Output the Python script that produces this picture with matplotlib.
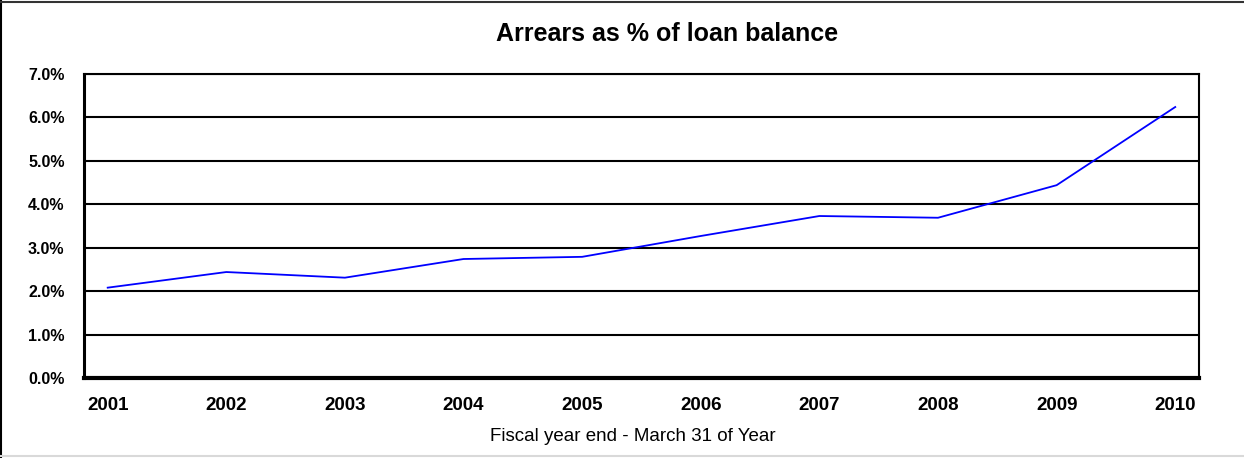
import matplotlib
matplotlib.use("Agg")
import matplotlib.pyplot as plt
from matplotlib.lines import Line2D
from matplotlib.ticker import FuncFormatter

years = [2001, 2002, 2003, 2004, 2005, 2006, 2007, 2008, 2009, 2010]
arrears_pct = [2.08, 2.44, 2.31, 2.74, 2.79, 3.27, 3.73, 3.69, 4.44, 6.24]

plt.rcParams['font.family'] = ['Liberation Sans', 'DejaVu Sans']

fig = plt.figure(figsize=(12.44, 4.58), dpi=100)
ax = fig.add_axes([0.0675, 0.1747, 0.8963, 0.6637])

ax.plot(years, arrears_pct, color='#0000ff', linewidth=1.3)

ax.set_xlim(years[0] - 0.2, years[-1] + 0.2)
ax.set_ylim(0, 7)
ax.set_yticks(range(0, 8))
ax.yaxis.set_major_formatter(FuncFormatter(lambda v, p: f"{v:.1f}%"))
ax.set_xticks(years)
ax.tick_params(axis='y', length=0, labelsize=11.5, pad=14)
ax.tick_params(axis='x', length=0, labelsize=13.5, pad=14)
for lbl in ax.get_xticklabels() + ax.get_yticklabels():
    lbl.set_fontweight('bold')

ax.grid(axis='y', color='black', linewidth=1.5)
ax.set_axisbelow(True)
for side, w in [('left', 2.2), ('bottom', 3), ('top', 1.5), ('right', 1.5)]:
    ax.spines[side].set_linewidth(w)
    ax.spines[side].set_color('black')

ax.set_xlabel("Fiscal year end - March 31 of Year", fontsize=13.5)
ax.xaxis.label.set_va('center')
ax.xaxis.set_label_coords(0.492, -0.194)
fig.text(0.536, 0.926, "Arrears as % of loan balance", ha='center', va='center',
         fontsize=18, fontweight='bold')

# chart frame: left and top dark, bottom light
fig.add_artist(Line2D([0.001, 0.001], [0.0, 0.997], transform=fig.transFigure,
                      color='black', linewidth=1.5))
fig.add_artist(Line2D([0.0, 1.0], [0.995, 0.995], transform=fig.transFigure,
                      color='#333333', linewidth=1.5))
fig.add_artist(Line2D([0.0, 1.0], [0.004, 0.004], transform=fig.transFigure,
                      color='#d9d9d9', linewidth=1.5))

fig.savefig("out.png", dpi=100)
